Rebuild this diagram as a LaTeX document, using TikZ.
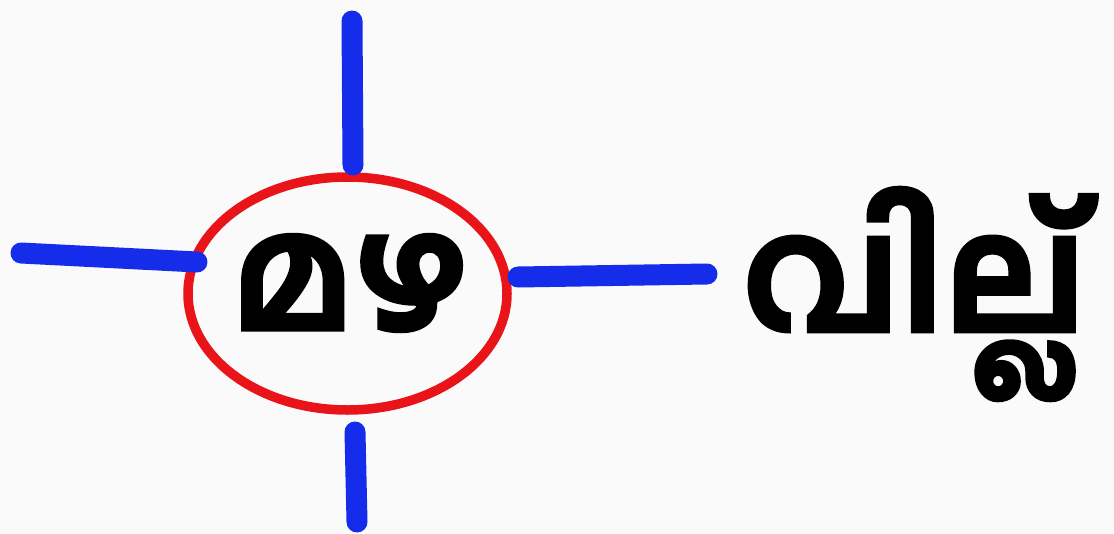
\documentclass[tikz,border=0pt]{standalone}
\usepackage{fontspec}
\newfontfamily\mal[Script=Malayalam,FakeBold=2.5]{Hind Kochi}
\usetikzlibrary{shapes.geometric}
\definecolor{bg}{RGB}{250,250,250}
\definecolor{spoke}{RGB}{22,44,235}
\definecolor{ring}{RGB}{232,20,26}
\tikzset{
  spokeline/.style={draw=spoke,line width=21pt,line cap=round},
  ringnode/.style={ellipse,draw=ring,line width=9.5pt,minimum width=319pt,minimum height=233pt,inner sep=0pt},
  maltext/.style={font=\mal\bfseries\fontsize{158}{158}\selectfont,inner sep=0pt,text=black}
}
\begin{document}
\begin{tikzpicture}[x=1pt,y=-1pt]
\fill[bg] (0,0) rectangle (1114,533);
\useasboundingbox (0,0) rectangle (1114,533);
\node[ringnode] (ring) at (347.5,293.5) {};
\node[maltext] (mazha) at (350,283) {മഴ};
\node[maltext,anchor=west] (villu) at (742,294) {വില്ല്};
\coordinate (tA) at (352,21);
\coordinate (tB) at (353,165);
\coordinate (bA) at (355,432);
\coordinate (bB) at (357,522);
\coordinate (lA) at (21,253);
\coordinate (lB) at (197,262);
\coordinate (rA) at (518,277);
\coordinate (rB) at (707,274);
\draw[spokeline] (tA) -- (tB);
\draw[spokeline] (bA) -- (bB);
\draw[spokeline] (lA) -- (lB);
\draw[spokeline] (rA) -- (rB);
\end{tikzpicture}
\end{document}
